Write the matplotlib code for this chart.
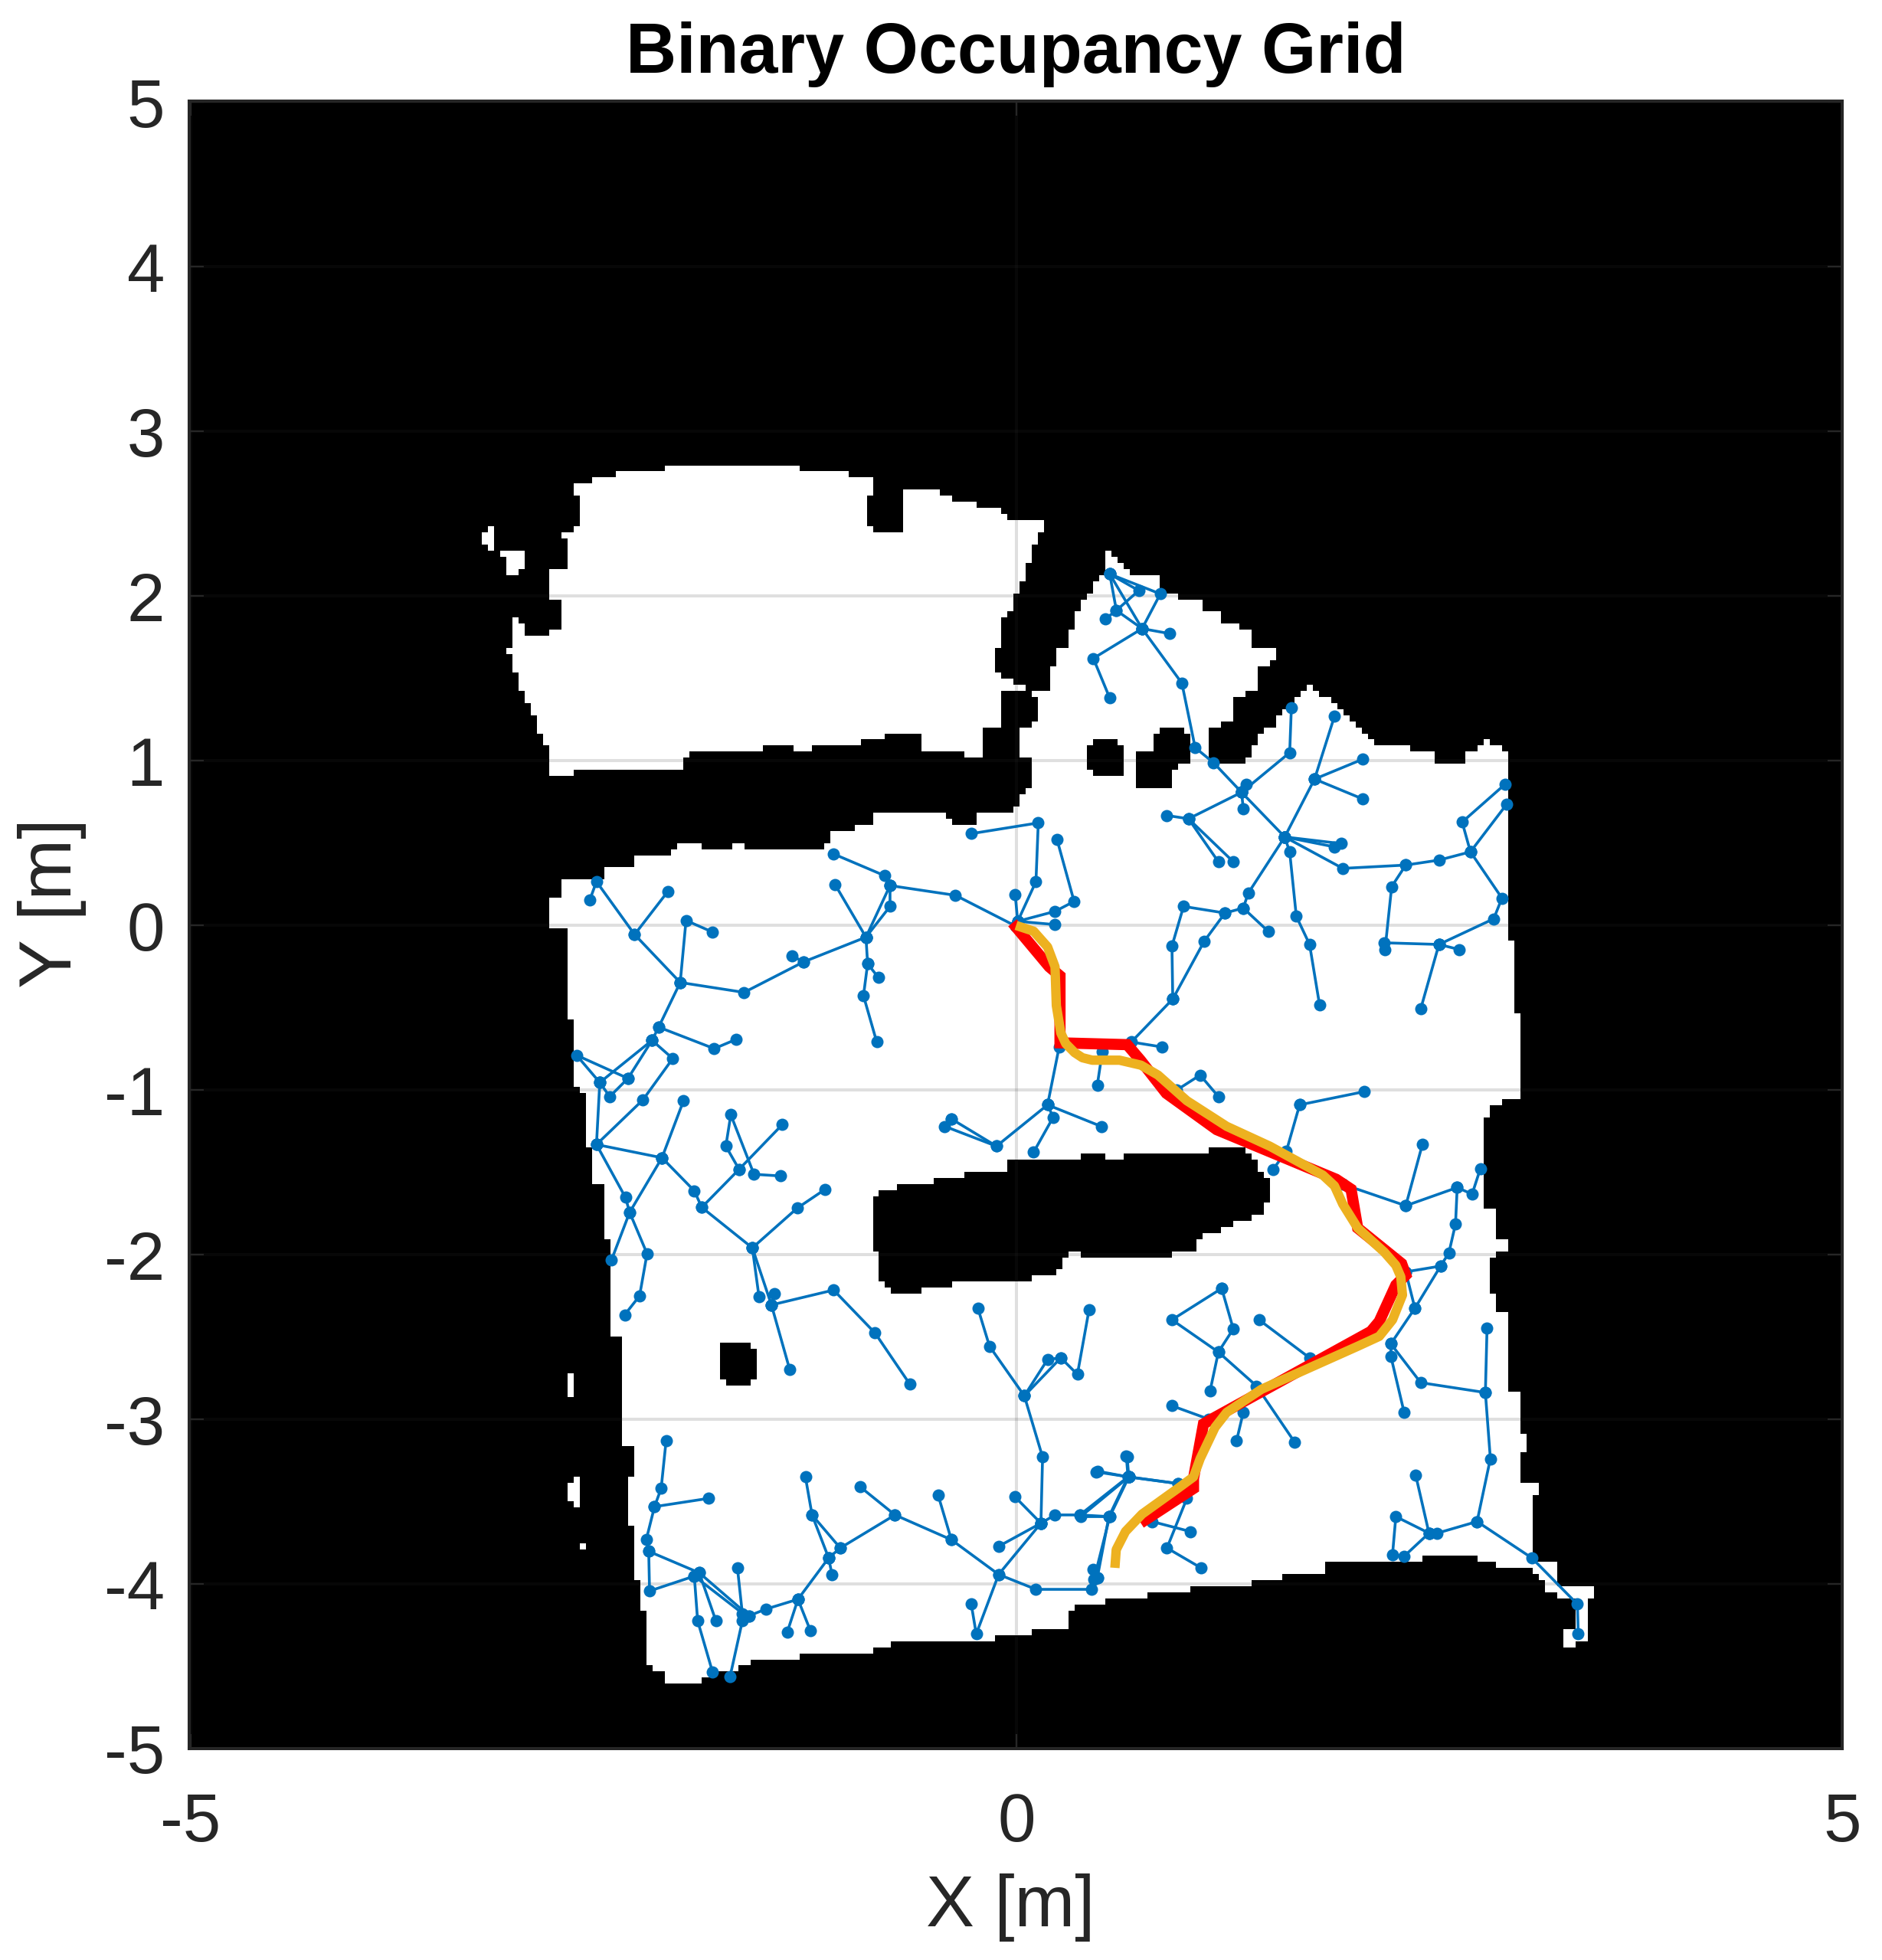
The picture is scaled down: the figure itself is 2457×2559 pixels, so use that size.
import numpy as np
import matplotlib
matplotlib.use('Agg')
import matplotlib.pyplot as plt
from matplotlib.path import Path

# map outlines, in metres
room_top = [(-2.66,2.66),(-2.56,2.70),(-2.37,2.74),(-2.03,2.78),(-1.31,2.78),(-1.31,2.74),(-1.01,2.74),(-1.01,2.70),
    (-0.86,2.70),(-0.86,2.61),(-0.90,2.61),(-0.90,2.46),(-0.86,2.40),(-0.69,2.40),(-0.67,2.46),(-0.67,2.63),(-0.47,2.63),
    (-0.38,2.57),(-0.23,2.57),(-0.23,2.53),(-0.09,2.53),(-0.09,2.49),(-0.04,2.49),(-0.04,2.46),(0.09,2.46),(0.16,2.44),
    (0.16,2.37),(0.12,2.37),(0.12,2.31),(0.09,2.31),(0.09,2.20),(0.07,2.20),(0.07,2.07),(0.03,2.07),(0.03,2.03),(-0.01,2.03),
    (-0.01,1.90),(-0.04,1.90),(-0.04,1.86),(-0.08,1.86),(-0.08,1.73),(-0.10,1.69),(-0.14,1.69),(-0.14,1.54),(-0.09,1.51),
    (-0.01,1.51),(0,1.46),(0.04,1.46),(0.04,1.43),(-0.05,1.43),(-0.10,1.38),(-0.10,1.24),(-0.07,1.20),(-0.21,1.20),(-0.21,1.01),(-0.30,1.01),(-0.30,1.04),
    (-0.54,1.04),(-0.57,1.13),(-0.60,1.17),(-0.80,1.17),(-0.80,1.13),(-0.93,1.13),(-0.93,1.09),(-1.03,1.09),(-1.03,1.08),
    (-1.23,1.08),(-1.23,1.04),(-1.36,1.04),(-1.36,1.08),(-1.53,1.08),(-1.53,1.04),(-1.96,1.04),(-1.96,1.01),(-2.00,1.01),
    (-2.00,0.96),(-2.09,0.96),(-2.09,0.93),(-2.16,0.93),(-2.16,0.96),(-2.33,0.96),(-2.37,0.93),(-2.66,0.93),(-2.66,0.91),
    (-2.80,0.91),(-2.80,0.96),(-2.83,0.96),(-2.83,1.08),(-2.85,1.08),(-2.85,1.17),(-2.89,1.17),(-2.89,1.26),(-2.93,1.26),
    (-2.93,1.34),(-2.97,1.34),(-2.97,1.43),(-2.99,1.43),(-2.99,1.54),(-3.02,1.54),(-3.02,1.64),(-3.06,1.64),(-3.06,1.67),
    (-3.02,1.67),(-3.02,1.86),(-2.99,1.86),(-2.97,1.77),(-2.80,1.77),(-2.80,1.80),(-2.76,1.80),(-2.76,1.97),(-2.80,1.97),
    (-2.80,2.10),(-2.83,2.10),(-2.83,2.14),(-2.76,2.16),(-2.72,2.16),(-2.72,2.33),(-2.76,2.33),(-2.76,2.40),(-2.66,2.40),
    (-2.63,2.44),(-2.63,2.61),(-2.66,2.61)]

room_top_scrap = [(-3.14,2.44),(-3.13,2.27),(-2.97,2.27),(-2.97,2.16),(-2.93,2.16),(-2.93,2.15),(-2.99,2.15),(-2.99,2.11),
    (-3.02,2.11),(-3.02,2.14),(-3.06,2.14),(-3.06,2.24),(-3.10,2.24),(-3.10,2.27),(-3.19,2.27),(-3.19,2.32),(-3.23,2.32),
    (-3.23,2.36),(-3.19,2.40)]

room_main = [(.565,2.27),(.59,2.23),(.66,2.20),(.67,2.14),(.82,2.13),(.88,2.10),(.88,2.03),(.97,2.03),(.97,1.99),(1.13,1.97),
    (1.14,1.90),(1.22,1.90),(1.22,1.85),(1.31,1.84),(1.34,1.80),(1.42,1.77),(1.44,1.69),(1.55,1.67),(1.55,1.61),(1.47,1.55),
    (1.44,1.54),(1.44,1.43),(1.31,1.37),(1.31,1.27),(1.28,1.25),(1.22,1.21),(1.18,1.20),(1.18,1.00),(1.38,1.00),(1.42,1.04),
    (1.47,1.16),(1.55,1.21),(1.60,1.28),(1.64,1.36),(1.72,1.39),(1.77,1.46),(1.79,1.42),(1.90,1.38),(1.97,1.30),(2.07,1.21),
    (2.14,1.13),(2.19,1.08),(2.52,1.07),(2.54,1.00),(2.71,1.00),(2.71,1.03),(2.78,1.08),(2.86,1.13),(2.90,1.08),(2.96,1.07),
    (2.96,1.00),(2.95,1.00),(2.95,.62),(2.96,.62),(2.96,-.10),(3.00,-.10),(3.00,-.53),(3.04,-.53),(3.04,-1.04),(2.94,-1.04),
    (2.88,-1.09),(2.83,-1.17),(2.83,-1.69),(2.91,-1.73),(2.91,-1.90),(2.95,-1.90),(2.95,-1.97),(2.84,-2.00),(2.84,-2.19),
    (2.91,-2.24),(2.91,-2.32),(2.97,-2.36),(2.97,-2.80),(3.04,-2.83),(3.04,-3.07),(3.08,-3.07),(3.08,-3.17),(3.04,-3.17),
    (3.04,-3.34),(3.17,-3.39),(3.17,-3.43),(3.13,-3.43),(3.13,-3.84),(3.25,-3.84),(3.25,-3.99),(3.47,-4.00),(3.47,-4.06),
    (3.43,-4.06),(3.43,-4.32),(3.38,-4.32),(3.38,-4.36),(3.31,-4.36),(3.29,-4.27),(3.36,-4.24),(3.36,-4.07),(3.21,-4.03),
    (3.17,-3.96),(3.12,-3.90),(2.91,-3.89),(2.91,-3.86),(2.79,-3.84),(2.79,-3.81),(2.45,-3.81),(2.45,-3.84),(2.19,-3.84),
    (2.19,-3.86),(1.85,-3.86),(1.85,-3.90),(1.62,-3.90),(1.62,-3.94),(1.44,-3.94),(1.43,-3.99),(1.05,-3.99),(1.05,-4.03),
    (.79,-4.03),(.79,-4.07),(.53,-4.07),(.53,-4.10),(.36,-4.10),(.33,-4.14),(.33,-4.24),(.09,-4.24),(.09,-4.27),(-.14,-4.27),
    (-.14,-4.31),(-.55,-4.31),(-.55,-4.33),(-.74,-4.33),(-.74,-4.37),(-.87,-4.37),(-.87,-4.41),(-1.31,-4.41),(-1.31,-4.44),
    (-1.61,-4.44),(-1.61,-4.46),(-1.67,-4.46),(-1.67,-4.50),(-1.91,-4.54),(-1.91,-4.57),(-2.10,-4.57),(-2.10,-4.54),
    (-2.13,-4.54),(-2.13,-4.50),(-2.20,-4.50),(-2.20,-4.46),(-2.23,-4.46),(-2.23,-4.14),(-2.26,-4.14),(-2.26,-3.97),
    (-2.30,-3.97),(-2.30,-3.64),(-2.33,-3.64),(-2.33,-3.33),(-2.30,-3.33),(-2.30,-3.16),(-2.34,-3.16),(-2.34,-3.13),
    (-2.38,-3.13),(-2.38,-3.03),(-2.39,-3.03),(-2.39,-2.86),(-2.38,-2.86),(-2.38,-2.69),(-2.39,-2.69),(-2.39,-2.49),
    (-2.43,-2.49),(-2.43,-2.03),(-2.45,-2.00),(-2.47,-1.85),(-2.47,-1.60),(-2.50,-1.56),(-2.56,-1.56),(-2.56,-1.39),
    (-2.60,-1.27),(-2.60,-1.01),(-2.67,-.96),(-2.67,-.57),(-2.69,-.57),(-2.69,-.24),(-2.72,-.24),(-2.72,-.02),(-2.80,-.01),
    (-2.80,.16),(-2.76,.16),(-2.76,.30),(-2.72,.30),(-2.72,.27),(-2.50,.27),(-2.50,.37),(-2.30,.37),(-2.30,.41),(-2.26,.44),
    (-2.04,.45),(-2.04,.49),(-1.88,.49),(-1.88,.45),(-1.71,.45),(-1.70,.49),(-1.64,.49),(-1.62,.45),(-1.23,.45),(-1.15,.49),
    (-1.11,.57),(-.99,.57),(-.98,.63),(-.87,.63),(-.87,.67),(-.51,.67),(-.51,.70),(-.44,.70),(-.40,.63),(-.24,.63),(-.24,.67),
    (0,.67),(0,.70),(.03,.79),(.07,.83),(.09,.83),(.09,1.01),(.03,1.04),(.03,1.19),(.09,1.20),(.12,1.24),(.12,1.38),(.09,1.43),(.20,1.43),(.21,1.54),
    (.26,1.67),(.32,1.70),(.32,1.76),(.37,1.90),(.38,1.93),(.43,1.99),(.46,2.07),(.54,2.17),(.54,2.24)]

specks = [[(-2.69,-2.69),(-2.67,-2.69),(-2.67,-2.86),(-2.69,-2.86)],
    [(-2.69,-3.38),(-2.66,-3.38),(-2.66,-3.33),(-2.63,-3.33),(-2.63,-3.50),(-2.66,-3.50),(-2.66,-3.46),(-2.69,-3.46)],
    [(-2.63,-3.73),(-2.60,-3.73),(-2.60,-3.77),(-2.63,-3.77)]]

pillars = [[(.42,1.06),(.47,1.13),(.61,1.13),(.66,1.06),(.66,.96),(.61,.90),(.47,.90),(.42,.96)],
    [(.83,1.15),(.87,1.20),(1.01,1.20),(1.05,1.15),(1.05,1.00),(.96,.96),(.96,.88),(.91,.83),(.76,.83),(.71,.88),(.71,1.02),
     (.76,1.07),(.83,1.07)],
    [(-1.79,-2.57),(-1.75,-2.50),(-1.62,-2.50),(-1.57,-2.57),(-1.57,-2.71),(-1.62,-2.77),(-1.75,-2.77),(-1.79,-2.71)],
    [(-.85,-1.63),(-.81,-1.60),(-.73,-1.60),(-.73,-1.55),(-.47,-1.54),(-.47,-1.51),(-.18,-1.50),(-.18,-1.47),(-.04,-1.47),
     (-.04,-1.43),(.38,-1.43),(.38,-1.39),(.55,-1.39),(.55,-1.43),(.66,-1.43),(.66,-1.39),(.83,-1.39),(.83,-1.37),(1.15,-1.37),
     (1.15,-1.33),(1.39,-1.33),(1.39,-1.37),(1.44,-1.42),(1.45,-1.50),(1.48,-1.50),(1.52,-1.54),(1.52,-1.68),(1.48,-1.69),
     (1.48,-1.73),(1.43,-1.73),(1.43,-1.77),(1.31,-1.77),(1.31,-1.81),(1.22,-1.81),(1.22,-1.84),(1.13,-1.84),(1.09,-1.90),
     (1.09,-1.97),(.89,-1.99),(.88,-2.02),(.42,-2.02),(.42,-1.99),(.33,-1.97),(.29,-2.00),(.29,-2.06),(.25,-2.10),(.09,-2.10),
     (.09,-2.15),(-.40,-2.16),(-.40,-2.19),(-.57,-2.19),(-.57,-2.23),(-.74,-2.23),(-.77,-2.19),(-.81,-2.16),(-.81,-1.98),
     (-.85,-1.98)]]

# RRT tree branches
branches_top_right = [
    [(.565,2.13),(.74,2.03),(.605,1.91),(.54,1.86)],
    [(.565,2.13),(.87,2.01),(.76,1.80)],
    [(.565,2.13),(.605,1.91),(.76,1.80),(.925,1.77)],
    [(.565,2.13),(.76,1.80),(.466,1.62),(.565,1.38)],
    [(.76,1.80),(1.00,1.47),(1.08,1.08),(1.19,.99),(1.36,.81),(1.65,1.05),(1.66,1.32)],
    [(1.36,.81),(1.39,.86)],
    [(1.36,.81),(1.37,.71)],
    [(1.36,.81),(1.04,.65),(.91,.67)],
    [(1.04,.65),(1.22,.39)],
    [(1.04,.65),(1.31,.39)],
    [(1.36,.81),(1.62,.54),(1.80,.89),(1.92,1.27)],
    [(1.80,.89),(2.09,1.01)],
    [(1.80,.89),(2.09,.77)],
    [(1.62,.54),(1.96,.50)],
    [(1.62,.54),(1.92,.48)],
    [(1.62,.54),(1.65,.45),(1.69,.06),(1.77,-.11),(1.83,-.475)],
    [(1.62,.54),(1.97,.35),(2.35,.37),(2.55,.40),(2.74,.45),(2.69,.63),(2.95,.86)],
    [(2.74,.45),(2.96,.74)],
    [(2.74,.45),(2.93,.17),(2.88,.045),(2.55,-.11),(2.22,-.10)],
    [(2.55,-.11),(2.67,-.14)],
    [(2.55,-.11),(2.44,-.50)],
    [(2.35,.37),(2.265,.24),(2.225,-.14)],
    [(1.62,.54),(1.40,.20),(1.37,.11),(1.26,.08),(1.01,.12),(.94,-.12),(.945,-.44)],
    [(1.26,.08),(1.135,-.09),(.945,-.44)],
    [(1.37,.11),(1.52,-.03)],
    [(.945,-.44),(.695,-.70),(.88,-.73)],
    [(.97,-.99),(1.11,-.90),(1.22,-1.03)],
]

branches_root = [
    [(0,0),(.01,.03),(.12,.27),(.134,.625),(-.27,.56)],
    [(.01,.03),(-.005,.19)],
    [(.01,.03),(.235,.09),(.35,.15),(.247,.525)],
    [(.01,.03),(.235,.01)],
]

branches_left = [
    [(0,0),(-.365,.187),(-.76,.246),(-.79,.305),(-1.10,.437)],
    [(-.76,.246),(-.76,.12),(-.905,-.066)],
    [(-.76,.246),(-.905,-.066)],
    [(-1.09,.25),(-.905,-.066),(-.895,-.227),(-.83,-.31)],
    [(-.895,-.227),(-.92,-.42),(-.84,-.70)],
    [(-.905,-.066),(-1.28,-.215),(-1.35,-.18)],
    [(-1.28,-.215),(-1.64,-.40),(-2.025,-.34),(-1.99,.035),(-1.83,-.035)],
    [(-2.025,-.34),(-2.30,-.05),(-2.53,.27),(-2.57,.16)],
    [(-2.30,-.05),(-2.10,.21)],
    [(-2.025,-.34),(-2.155,-.61),(-1.82,-.74),(-1.69,-.685)],
    [(-2.155,-.61),(-2.195,-.69),(-2.07,-.80),(-2.25,-1.05),(-2.53,-1.32)],
    [(-2.195,-.69),(-2.51,-.945),(-2.65,-.78),(-2.34,-.92)],
    [(-2.195,-.69),(-2.34,-.92),(-2.45,-1.03),(-2.51,-.945)],
    [(-2.51,-.945),(-2.53,-1.32),(-2.135,-1.40),(-2.005,-1.055)],
    [(-2.53,-1.32),(-2.355,-1.64),(-2.33,-1.73),(-2.44,-2.02)],
    [(-2.135,-1.40),(-2.33,-1.73),(-2.225,-1.98),(-2.27,-2.235),(-2.36,-2.35)],
    [(-2.135,-1.40),(-1.94,-1.60),(-1.895,-1.70),(-1.67,-1.47),(-1.41,-1.20)],
    [(-1.67,-1.47),(-1.75,-1.33),(-1.72,-1.14),(-1.58,-1.50),(-1.42,-1.51)],
    [(-1.895,-1.70),(-1.59,-1.945),(-1.32,-1.705),(-1.15,-1.59)],
    [(-1.59,-1.945),(-1.55,-2.24)],
    [(-1.59,-1.945),(-1.475,-2.29),(-1.365,-2.68)],
    [(-1.475,-2.29),(-1.455,-2.22)],
    [(-1.475,-2.29),(-1.10,-2.20),(-.85,-2.46),(-.64,-2.77)],
]

branches_center = [
    [(.26,-.73),(.19,-1.08),(.224,-1.155),(.106,-1.366)],
    [(.19,-1.08),(.513,-1.21)],
    [(.19,-1.08),(-.118,-1.33),(-.39,-1.165)],
    [(-.118,-1.33),(-.43,-1.21),(-.39,-1.165)],
    [(.52,-.76),(.49,-.96)],
    [(-.23,-2.31),(-.16,-2.54),(.05,-2.84),(.19,-2.62),(.27,-2.61)],
    [(.05,-2.84),(.27,-2.61),(.37,-2.71),(.44,-2.32)],
    [(.05,-2.84),(.16,-3.21),(.15,-3.61)],
]

branches_bottom = [
    [(-2.11,-3.11),(-2.14,-3.40),(-2.18,-3.51),(-1.855,-3.46)],
    [(-2.18,-3.51),(-2.23,-3.71),(-2.215,-3.78),(-1.91,-3.91),(-1.61,-4.17)],
    [(-2.215,-3.78),(-2.21,-4.02),(-1.94,-3.93),(-1.92,-4.20),(-1.83,-4.51)],
    [(-1.94,-3.93),(-1.63,-4.17)],
    [(-1.91,-3.91),(-1.81,-4.20)],
    [(-1.68,-3.88),(-1.65,-4.16)],
    [(-1.65,-4.20),(-1.725,-4.54)],
    [(-1.61,-4.17),(-1.51,-4.13),(-1.315,-4.07),(-1.38,-4.27)],
    [(-1.315,-4.07),(-1.24,-4.26)],
    [(-1.315,-4.07),(-1.13,-3.82),(-1.06,-3.76),(-.73,-3.56),(-.94,-3.39)],
    [(-1.13,-3.82),(-1.23,-3.56),(-1.27,-3.33)],
    [(-1.06,-3.76),(-1.23,-3.56)],
    [(-1.13,-3.82),(-1.11,-3.92)],
    [(-.73,-3.56),(-.39,-3.71),(-.47,-3.44)],
    [(-.39,-3.71),(-.105,-3.92),(.15,-3.61),(-.105,-3.75)],
    [(.15,-3.61),(-.007,-3.45)],
    [(.15,-3.61),(.235,-3.56),(.385,-3.56),(.56,-3.57),(.675,-3.33),(.665,-3.205)],
    [(.385,-3.56),(.675,-3.33),(.49,-3.295)],
    [(.675,-3.33),(.975,-3.37)],
    [(.56,-3.57),(.49,-3.94),(.465,-3.89)],
    [(.49,-3.94),(.455,-4.01),(.12,-4.01),(-.105,-3.92),(-.24,-4.28),(-.27,-4.10)],
]

branches_bottom_right = [
    [(1.71,-1.08),(2.10,-1.00)],
    [(1.71,-1.08),(1.63,-1.36),(1.55,-1.47)],
    [(1.97,-1.56),(2.35,-1.69),(2.45,-1.32)],
    [(2.35,-1.69),(2.66,-1.58),(2.75,-1.62),(2.80,-1.465)],
    [(2.35,-2.09),(2.56,-2.055),(2.61,-1.975),(2.65,-1.80),(2.66,-1.58)],
    [(2.56,-2.055),(2.405,-2.31),(2.26,-2.525),(2.26,-2.60),(2.34,-2.94)],
    [(2.35,-2.09),(2.405,-2.31)],
    [(2.26,-2.525),(2.44,-2.76),(2.83,-2.82),(2.84,-2.43)],
    [(2.83,-2.82),(2.86,-3.22),(2.78,-3.60),(2.54,-3.67),(2.49,-3.67),(2.41,-3.32)],
    [(2.78,-3.60),(3.11,-3.82),(3.385,-4.10),(3.39,-4.28)],
    [(2.49,-3.67),(2.29,-3.57),(2.27,-3.80),(2.34,-3.81),(2.49,-3.67)],
    [(1.24,-2.19),(.94,-2.38),(1.22,-2.575),(1.17,-2.81)],
    [(1.24,-2.19),(1.31,-2.435),(1.22,-2.575),(1.45,-2.78),(1.68,-3.12)],
    [(1.465,-2.38),(1.77,-2.61)],
    [(.94,-2.90),(1.16,-2.98)],
    [(1.37,-2.94),(1.33,-3.11)],
    [(.68,-3.33),(.67,-3.21)],
    [(.68,-3.33),(.485,-3.30)],
    [(.68,-3.33),(.975,-3.37)],
    [(.68,-3.33),(.39,-3.57),(.565,-3.57),(.68,-3.33)],
    [(.565,-3.57),(.47,-3.95)],
    [(1.03,-3.46),(.91,-3.76),(1.115,-3.88)],
    [(.82,-3.60),(1.05,-3.66)],
]

# planned path (red) and smoothed path (orange)
path_red = [(0,-.005),(.20,-.245),(.265,-.30),(.265,-.705),(.67,-.716),(.75,-.81),(.906,-1.01),(1.21,-1.23),(1.93,-1.53),
    (2.02,-1.59),(2.06,-1.825),(2.325,-2.04),(2.35,-2.11),(2.29,-2.17),(2.19,-2.39),(2.14,-2.45),(1.19,-2.975),(1.13,-3.01),
    (1.07,-3.34),(1.07,-3.40),(.78,-3.59)]
path_smooth = [(0,.005),(.106,-.03),(.19,-.125),(.235,-.245),(.243,-.48),(.27,-.645),(.30,-.71),(.353,-.764),(.40,-.795),(.46,-.81),
    (.624,-.81),(.753,-.84),(.856,-.90),(1.03,-1.055),(1.27,-1.21),(1.53,-1.33),(1.85,-1.505),(1.92,-1.57),(1.97,-1.68),(2.06,-1.825),
    (2.22,-1.97),(2.29,-2.05),(2.32,-2.12),(2.33,-2.23),(2.27,-2.38),(2.19,-2.48),(2.06,-2.54),(1.48,-2.80),(1.27,-2.94),(1.2,-3.03),
    (1.11,-3.22),(1.07,-3.33),(.975,-3.40),(.76,-3.555),(.66,-3.66),(.604,-3.77),(.596,-3.88)]

x_ticks = [-5, 0, 5]
y_ticks = [-5, -4, -3, -2, -1, 0, 1, 2, 3, 4, 5]
x_tick_labels = ['-5', '0', '5']
y_tick_labels = ['-5', '-4', '-3', '-2', '-1', '0', '1', '2', '3', '4', '5']


def calibrate(points):
    # readings came from crops with a slightly different pixel scale
    return [(1.0042 * x - .0023, 1.0042 * y - .006) for x, y in points]


# rasterize the outlines to map cells, 8 px a cell in the picture
half_span = 5.05
cells = 273
centers = (np.arange(cells) + 0.5) / cells * 2 * half_span - half_span
xx, yy = np.meshgrid(centers, centers)
pts = np.column_stack([xx.ravel(), yy.ravel()])
free = np.zeros(len(pts), dtype=bool)
for outline in [room_top, room_top_scrap, room_main] + specks:
    free |= Path(calibrate(outline)).contains_points(pts)
for outline in pillars:
    free &= ~Path(calibrate(outline)).contains_points(pts)
grid_map = free.reshape(cells, cells)

plt.rcParams['font.family'] = ['Liberation Sans', 'DejaVu Sans']
W, H = 2457, 2559
fig = plt.figure(figsize=(W / 100, H / 100), dpi=100)
left, right, top, bottom = 247, 2405, 132, 2283
ax = fig.add_axes([left / W, 1 - bottom / H, (right - left) / W, (bottom - top) / H])

ax.imshow(grid_map, cmap='gray', origin='lower', extent=(-half_span, half_span, -half_span, half_span),
          interpolation='nearest', aspect='auto', zorder=1)
# zero lines sit a hair off the frame centre in the picture
ax.set_xlim(-5.009, 4.991)
ax.set_ylim(-4.995, 5.005)
ax.set_xticks(x_ticks, x_tick_labels)
ax.set_yticks(y_ticks, y_tick_labels)
ax.grid(True, color=(.2, .2, .2), alpha=.155, linewidth=2.9, zorder=2)
ax.set_axisbelow(False)

blue = '#0072BD'
for group in [branches_top_right, branches_root, branches_left, branches_center, branches_bottom, branches_bottom_right]:
    for branch in group:
        xs, ys = zip(*calibrate(branch))
        ax.plot(xs, ys, '-o', color=blue, linewidth=2.6, markersize=11.5, markeredgewidth=0, zorder=3, solid_capstyle='round')

xs, ys = zip(*calibrate(path_red))
ax.plot(xs, ys, color='#FF0000', linewidth=10.5, zorder=4, solid_joinstyle='miter')
xs, ys = zip(*calibrate(path_smooth))
ax.plot(xs, ys, color='#EDB120', linewidth=8.8, zorder=5, solid_capstyle='butt', solid_joinstyle='round')

ax.tick_params(direction='in', top=True, right=True, length=14, width=1.5, color='#262626', labelcolor='#262626',
               labelsize=64)
ax.tick_params(axis='x', pad=40)
ax.tick_params(axis='y', pad=23)
for spine in ax.spines.values():
    spine.set_color('#262626')
    spine.set_linewidth(2.9)
    spine.set_zorder(6)

ax.set_title('Binary Occupancy Grid', fontsize=66, fontweight='bold', color='black', pad=27)
ax.set_xlabel('X [m]', fontsize=68, color='#262626')
ax.set_ylabel('Y [m]', fontsize=69, color='#262626')
ax.xaxis.set_label_coords(.497, -.076)
ax.yaxis.set_label_coords(-.062, .513)

fig.savefig('out.png', dpi=100)
